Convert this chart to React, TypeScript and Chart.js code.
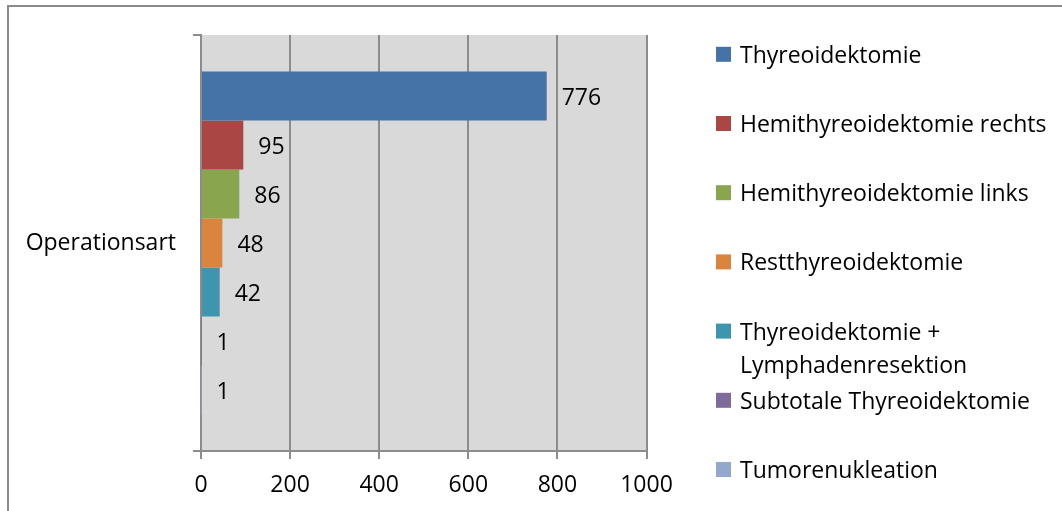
import React, { useEffect, useRef } from "react";
import { Chart, registerables } from "chart.js";

Chart.register(...registerables);

const categories = ["Operationsart"];
const seriesNames = [
  "Thyreoidektomie",
  "Hemithyreoidektomie rechts",
  "Hemithyreoidektomie links",
  "Restthyreoidektomie",
  "Thyreoidektomie + Lymphadenresektion",
  "Subtotale Thyreoidektomie",
  "Tumorenukleation",
];
const legendLines = [
  ["Thyreoidektomie"],
  ["Hemithyreoidektomie rechts"],
  ["Hemithyreoidektomie links"],
  ["Restthyreoidektomie"],
  ["Thyreoidektomie +", "Lymphadenresektion"],
  ["Subtotale Thyreoidektomie"],
  ["Tumorenukleation"],
];
const seriesValues = [776, 95, 86, 48, 42, 1, 1];
const seriesColors = ["#4572a7", "#aa4643", "#89a54e", "#db843d", "#3d96ae", "#80699b", "#92a8cd"];
const xTicks = [0, 200, 400, 600, 800, 1000];

const FONT = "'Open Sans'";
const FONT_SIZE = 23;
const GRID = "#8c8c8c";

const frameAndBackground = {
  id: "frameAndBackground",
  beforeDraw(chart: any) {
    const { ctx, chartArea } = chart;
    ctx.save();
    ctx.fillStyle = "#ffffff";
    ctx.fillRect(0, 0, chart.width, chart.height);
    ctx.strokeStyle = "#8c8c8c";
    ctx.lineWidth = 2;
    ctx.beginPath();
    ctx.moveTo(8, chart.height + 2);
    ctx.lineTo(8, 6);
    ctx.lineTo(chart.width + 2, 6);
    ctx.stroke();
    ctx.fillStyle = "#d9d9d9";
    ctx.fillRect(chartArea.left, chartArea.top, chartArea.right - chartArea.left, chartArea.bottom - chartArea.top);
    ctx.restore();
  },
};

const valueLabels = {
  id: "valueLabels",
  afterDatasetsDraw(chart: any) {
    const { ctx } = chart;
    ctx.save();
    ctx.font = `${FONT_SIZE}px ${FONT}`;
    ctx.fillStyle = "#000000";
    ctx.textAlign = "left";
    ctx.textBaseline = "alphabetic";
    chart.data.datasets.forEach((ds: any, i: number) => {
      const meta = chart.getDatasetMeta(i);
      meta.data.forEach((el: any, j: number) => {
        ctx.fillText(String(ds.data[j]), el.x + 15, el.y + 9);
      });
    });
    ctx.restore();
  },
};

const sideLegend = {
  id: "sideLegend",
  afterDraw(chart: any) {
    const { ctx } = chart;
    ctx.save();
    ctx.font = `${FONT_SIZE}px ${FONT}`;
    ctx.fillStyle = "#000000";
    ctx.textBaseline = "alphabetic";
    const x0 = 716;
    const top = 54.3;
    const pitch = 69.2;
    const lineH = 33;
    chart.data.datasets.forEach((ds: any, i: number) => {
      const cy = top + pitch * i;
      ctx.fillStyle = ds.backgroundColor;
      ctx.fillRect(x0, cy - 7.5, 15, 15);
      ctx.fillStyle = "#000000";
      const lines = legendLines[i] || [ds.label];
      lines.forEach((t: string, k: number) => {
        ctx.fillText(t, x0 + 24, cy + 8.5 + k * lineH);
      });
    });
    ctx.restore();
  },
};

export default function App() {
  const ref = useRef<HTMLCanvasElement | null>(null);
  useEffect(() => {
    if (!ref.current) return;
    const chart = new Chart(ref.current, {
      type: "bar",
      data: {
        labels: categories,
        datasets: seriesNames.map((name, i) => ({
          label: name,
          data: [seriesValues[i]],
          backgroundColor: seriesColors[i],
          borderWidth: 0,
          categoryPercentage: 0.8245,
          barPercentage: 1,
        })),
      },
      options: {
        indexAxis: "y",
        responsive: false,
        animation: false,
        layout: { padding: { left: 0, right: 415.5, top: 35, bottom: 0 } },
        plugins: { legend: { display: false }, tooltip: { enabled: false } },
        scales: {
          x: {
            min: 0,
            max: 1000,
            afterBuildTicks: (scale: any) => {
              scale.ticks = xTicks.map((v) => ({ value: v }));
            },
            afterFit: (scale: any) => {
              scale.height = 60;
            },
            grid: { color: GRID, lineWidth: 2, drawTicks: true, tickLength: 8, tickColor: GRID },
            border: { display: true, color: GRID, width: 2 },
            ticks: {
              color: "#000000",
              font: { family: FONT, size: FONT_SIZE },
              padding: 13,
              maxRotation: 0,
              callback: (v: any) => String(v),
            },
          },
          y: {
            afterFit: (scale: any) => {
              scale.width = 201;
            },
            grid: { drawOnChartArea: false, drawTicks: true, tickLength: 8, tickColor: GRID, lineWidth: 2, offset: true },
            border: { display: true, color: GRID, width: 2 },
            ticks: { color: "#000000", font: { family: FONT, size: FONT_SIZE }, padding: 17 },
          },
        },
      },
      plugins: [frameAndBackground, valueLabels, sideLegend],
    } as any);
    return () => chart.destroy();
  }, []);
  return (
    <div style={{ position: "fixed", left: 0, top: 0, width: 1062, height: 511 }}>
      <canvas ref={ref} width={1062} height={511} style={{ display: "block" }} />
    </div>
  );
}
